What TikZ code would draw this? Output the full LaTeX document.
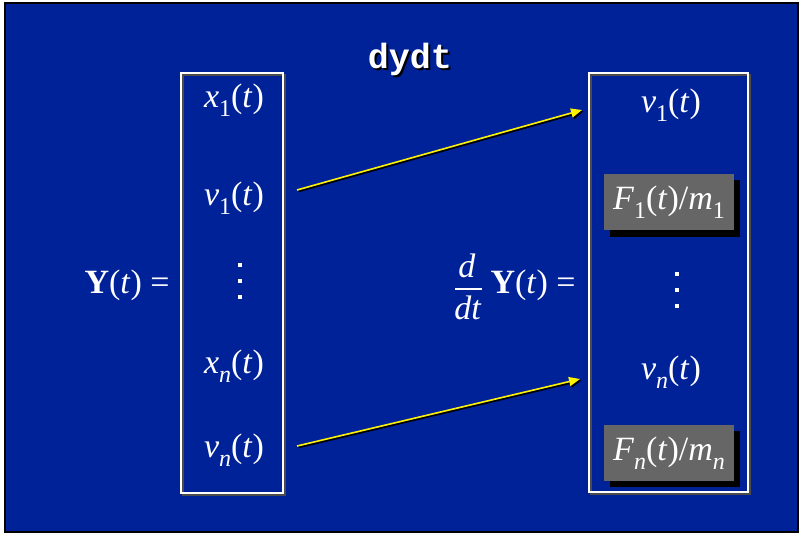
\documentclass[tikz,border=0pt]{standalone}
\usepackage{fontspec}
\setmainfont{Liberation Serif}
\setmonofont{Liberation Mono}
\usetikzlibrary{arrows.meta}
\definecolor{slideblue}{RGB}{0,34,153}
\definecolor{boxgray}{RGB}{102,102,102}
\newcommand{\lowsub}[1]{\raisebox{-8.5pt}{\fontsize{24}{28}\selectfont #1}}
\newcommand{\shadowed}[1]{\rlap{\hspace{2pt}\raisebox{-2pt}{\color{black}#1}}#1}
\tikzset{
  vec/.style={text=white, font=\fontsize{34}{40}\selectfont},
  fbox/.style={vec, fill=boxgray, minimum width=130pt, minimum height=56pt, inner sep=0pt},
  col/.style={draw=white, line width=1.2pt},
  flow/.style={->, yellow, line width=1.6pt},
  tt/.style={text=white, font=\ttfamily\bfseries\fontsize{35}{38}\selectfont},
}
\begin{document}
\begin{tikzpicture}[x=1pt, y=-1pt, >={Triangle[length=11pt,width=9pt]}]
    \useasboundingbox (0,0) rectangle (801,535);
    \fill[slideblue] (5,3) rectangle (798,532);
    \draw[black, line width=2.5pt] (5,3) rectangle (798,532);

    \node[tt] (title) at (410,60) {\shadowed{dydt}};

    \draw[black!70, line width=1.2pt] (183,75) rectangle (285,495);
    \draw[col] (181,73) rectangle (283,493);
    \draw[black!70, line width=1.2pt] (591,75) rectangle (750,494);
    \draw[col] (589,73) rectangle (748,492);

    \node[vec] (x1) at (234,100) {\textit{x}\lowsub{1}(\textit{t})};
    \node[vec] (v1) at (234,198) {\textit{v}\lowsub{1}(\textit{t})};
    \foreach \i in {0,1,2}
        \fill[white] (238,263+16*\i) rectangle ++(4,4);
    \node[vec] (xn) at (234,366) {\textit{x}\lowsub{\textit{n}}(\textit{t})};
    \node[vec] (vn) at (234,450) {\textit{v}\lowsub{\textit{n}}(\textit{t})};

    \node[vec] (ylhs) at (127,285) {\textbf{Y}(\textit{t}) =};
    \node[vec] (dnum) at (467,266) {\textit{d}};
    \node[vec] (dden) at (468,308) {\textit{dt}};
    \draw[white, line width=1.2pt] (455,289) -- (482,289);
    \node[vec] (dylhs) at (533,285) {\textbf{Y}(\textit{t}) =};

    \node[vec] (rv1) at (671,105) {\textit{v}\lowsub{1}(\textit{t})};
    \fill[black] (610,180) rectangle (740,237);
    \node[fbox] (rF1) at (669,202) {\textit{F}\lowsub{1}(\textit{t})/\textit{m}\lowsub{1}};
    \foreach \i in {0,1,2}
        \fill[white] (675,272+16*\i) rectangle ++(4,4);
    \node[vec] (rvn) at (671,372) {\textit{v}\lowsub{\textit{n}}(\textit{t})};
    \fill[black] (610,431) rectangle (740,487);
    \node[fbox] (rFn) at (669,453) {\textit{F}\lowsub{\textit{n}}(\textit{t})/\textit{m}\lowsub{\textit{n}}};

    \coordinate (a1) at (297,190);
    \coordinate (b1) at (582,110);
    \coordinate (a2) at (297,446);
    \coordinate (b2) at (580,379);
    \draw[->, black, line width=1.6pt] ([shift={(1.5,1.5)}]a1) -- ([shift={(1.5,1.5)}]b1);
    \draw[->, black, line width=1.6pt] ([shift={(1.5,1.5)}]a2) -- ([shift={(1.5,1.5)}]b2);
    \draw[flow] (a1) -- (b1);
    \draw[flow] (a2) -- (b2);
\end{tikzpicture}
\end{document}
